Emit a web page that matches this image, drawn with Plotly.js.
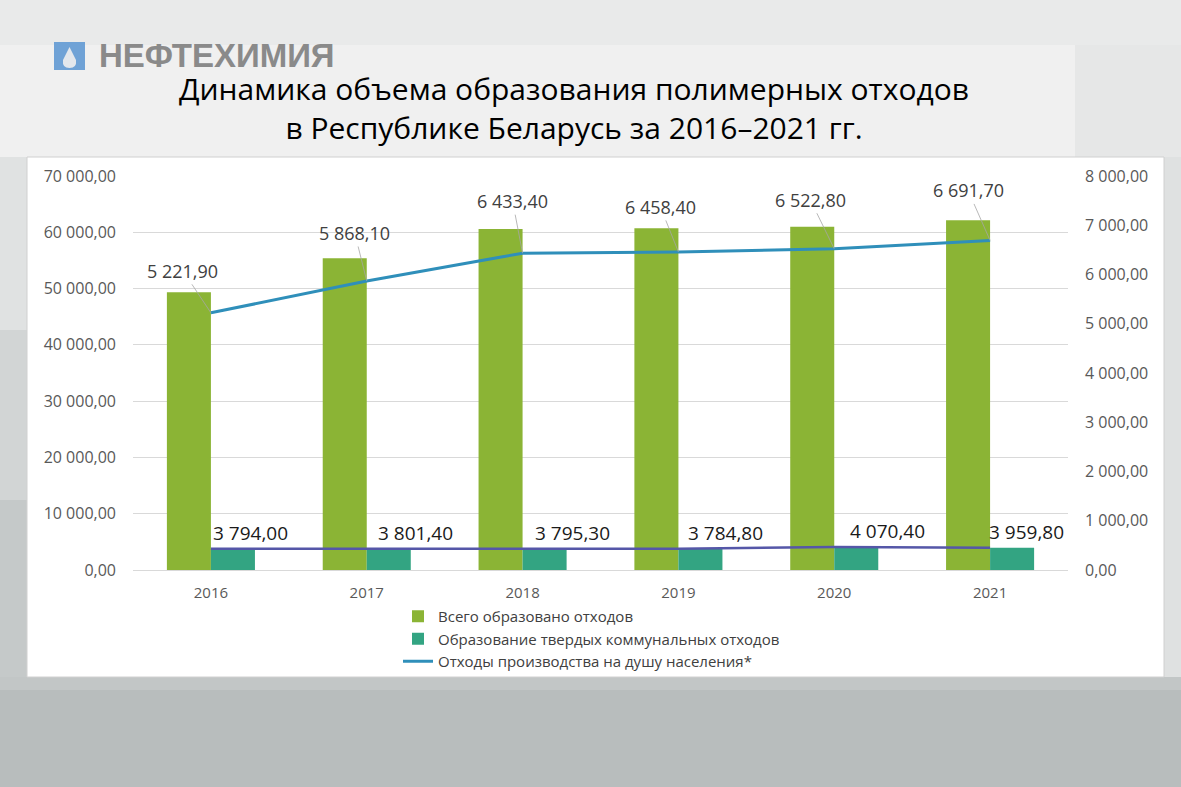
<!DOCTYPE html>
<html>
<head>
<meta charset="utf-8">
<script src="https://cdn.plot.ly/plotly-3.0.1.min.js"></script>
<style>html,body{margin:0;padding:0;background:#e8e9e9;}#chart{width:1181px;height:787px;}</style>
</head>
<body>
<div id="chart"></div>
<script>
// ---- data ----
const years = ['2016', '2017', '2018', '2019', '2020', '2021'];
const totalWaste = [49340, 55380, 60580, 60710, 61000, 62130];          // Всего образовано отходов
const municipalWaste = [3794.00, 3801.40, 3795.30, 3784.80, 4070.40, 3959.80]; // Образование ТКО
const perCapita = [5221.90, 5868.10, 6433.40, 6458.40, 6522.80, 6691.70];      // Отходы производства на душу населения*
const seriesNames = ['Всего образовано отходов', 'Образование твердых коммунальных отходов', 'Отходы производства на душу населения*'];
const titleLines = ['Динамика объема образования полимерных отходов', 'в Республике Беларусь за 2016–2021 гг.'];
const logoText = 'НЕФТЕХИМИЯ';

// ---- layout helpers (pixel -> paper) ----
const L = 133, R = 1068, T = 176, B = 570;
const W = R - L, H = B - T;
const px = v => (v - L) / W;
const py = v => (B - v) / H;

function fmt(v) {
  const s = v.toFixed(2).split('.');
  return s[0].replace(/\B(?=(\d{3})+(?!\d))/g, ' ') + ',' + s[1];
}

const FONT = 'Open Sans, Noto Sans, sans-serif';

const traces = [
  { type: 'bar', x: years, y: totalWaste, name: seriesNames[0], marker: { color: '#8bb435' }, yaxis: 'y', hoverinfo: 'y' },
  { type: 'bar', x: years, y: municipalWaste, name: seriesNames[1], marker: { color: '#33a482' }, yaxis: 'y', hoverinfo: 'y' },
  { type: 'scatter', mode: 'lines', x: years, y: perCapita, name: seriesNames[2], line: { color: '#2f8fba', width: 3 }, yaxis: 'y2' },
  { type: 'scatter', mode: 'lines', x: years, y: municipalWaste, name: 'ТКО', showlegend: false, line: { color: '#5557a8', width: 2.5 }, yaxis: 'y' }
];

const annotations = [];
// per-capita labels with leader lines (x given as category index)
const capOff = [[-28, -42], [-12, -48], [-10, -52], [-18, -45], [-24, -49], [-22, -50]];
perCapita.forEach((v, i) => {
  annotations.push({ x: i, y: v, xref: 'x', yref: 'y2', text: fmt(v), showarrow: true,
    ax: capOff[i][0], ay: capOff[i][1], arrowhead: 0, arrowwidth: 0.8, arrowcolor: '#a6a6a6', standoff: 0,
    font: { family: FONT, size: 18, color: '#404040' } });
});
// municipal labels
const munShift = [0, 9, 10, 8, 14, -3];
municipalWaste.forEach((v, i) => {
  annotations.push({ x: i, y: v, xref: 'x', yref: 'y', text: fmt(v), showarrow: false,
    xanchor: 'left', yanchor: 'bottom', xshift: munShift[i], yshift: 1,
    font: { family: FONT, size: 19, color: '#1a1a1a' } });
});
// logo text
annotations.push({ xref: 'paper', yref: 'paper', x: px(98), y: py(55), xanchor: 'left', yanchor: 'middle',
  text: '<b>' + logoText + '</b>', showarrow: false, height: 30, valign: 'middle', borderpad: 0,
  font: { family: 'Liberation Sans, Arial, sans-serif', size: 33, color: '#8a8a8a' } });
// title (two lines)
annotations.push({ xref: 'paper', yref: 'paper', x: px(574), y: py(108), xanchor: 'center', yanchor: 'middle',
  text: titleLines.join('<br>'), showarrow: false, align: 'center', borderpad: 0, font: { family: FONT, size: 30, color: '#000000' } });

const shapes = [
  // top band
  { type: 'rect', xref: 'paper', yref: 'paper', x0: px(0), x1: px(1181), y0: py(0), y1: py(45), fillcolor: '#e9eaea', line: { width: 0 }, layer: 'below' },
  // title region
  { type: 'rect', xref: 'paper', yref: 'paper', x0: px(0), x1: px(1075), y0: py(45), y1: py(157), fillcolor: '#f0f0f0', line: { width: 0 }, layer: 'below' },
  { type: 'rect', xref: 'paper', yref: 'paper', x0: px(1075), x1: px(1181), y0: py(45), y1: py(157), fillcolor: '#e6e7e7', line: { width: 0 }, layer: 'below' },
  // left and right strips beside the chart box
  { type: 'rect', xref: 'paper', yref: 'paper', x0: px(0), x1: px(27), y0: py(157), y1: py(330), fillcolor: '#e0e2e2', line: { width: 0 }, layer: 'below' },
  { type: 'rect', xref: 'paper', yref: 'paper', x0: px(0), x1: px(27), y0: py(330), y1: py(500), fillcolor: '#d2d5d5', line: { width: 0 }, layer: 'below' },
  { type: 'rect', xref: 'paper', yref: 'paper', x0: px(0), x1: px(27), y0: py(500), y1: py(690), fillcolor: '#c5c9c9', line: { width: 0 }, layer: 'below' },
  { type: 'rect', xref: 'paper', yref: 'paper', x0: px(1164), x1: px(1181), y0: py(157), y1: py(690), fillcolor: '#dfe1e1', line: { width: 0 }, layer: 'below' },
  // bottom band
  { type: 'rect', xref: 'paper', yref: 'paper', x0: px(0), x1: px(1181), y0: py(677), y1: py(690), fillcolor: '#c2c6c6', line: { width: 0 }, layer: 'below' },
  { type: 'rect', xref: 'paper', yref: 'paper', x0: px(0), x1: px(1181), y0: py(690), y1: py(787), fillcolor: '#b8bdbd', line: { width: 0 }, layer: 'below' },
  // white chart box
  { type: 'rect', xref: 'paper', yref: 'paper', x0: px(27), x1: px(1164), y0: py(677), y1: py(157), fillcolor: '#ffffff', line: { color: '#d0d0d0', width: 1 }, layer: 'below' },
  // logo icon
  { type: 'rect', xref: 'paper', yref: 'paper', x0: px(54), x1: px(85), y0: py(70), y1: py(42), fillcolor: '#6fa2d6', line: { width: 0 }, layer: 'above' },
  { type: 'path', xref: 'paper', yref: 'paper', layer: 'above', fillcolor: '#e3e7ec', line: { width: 0 },
    path: 'M ' + px(69.5) + ' ' + py(47) + ' L ' + px(63) + ' ' + py(60) + ' Q ' + px(62) + ' ' + py(68) + ' ' + px(69.5) + ' ' + py(68) +
          ' Q ' + px(77) + ' ' + py(68) + ' ' + px(76) + ' ' + py(60) + ' Z' }
];

const layout = {
  width: 1181, height: 787,
  margin: { l: L, r: 1181 - R, t: T, b: 787 - B, pad: 0 },
  paper_bgcolor: '#e8e9e9',
  plot_bgcolor: 'rgba(0,0,0,0)',
  separators: ', ',
  barmode: 'group', bargap: 0.435, bargroupgap: 0,
  showlegend: true,
  legend: { x: px(398), y: py(600), xanchor: 'left', yanchor: 'top', orientation: 'v', bgcolor: 'rgba(0,0,0,0)',
    font: { family: FONT, size: 15, color: '#404040' }, tracegroupgap: 0, itemwidth: 30, traceorder: 'normal' },
  xaxis: { type: 'category', range: [-0.5, 5.5], autorange: false, tickfont: { family: FONT, size: 15, color: '#595959' }, ticks: '', showline: false, showgrid: false, zeroline: false, ticklabelstandoff: 12 },
  yaxis: { range: [0, 70000], tickvals: [0, 10000, 20000, 30000, 40000, 50000, 60000, 70000], tickformat: ',.2f',
    tickfont: { family: FONT, size: 16, color: '#595959' }, gridcolor: '#d9d9d9', gridwidth: 1, zeroline: true, zerolinecolor: '#d9d9d9',
    showline: false, ticks: '', ticklabelstandoff: 16 },
  yaxis2: { range: [0, 8000], tickvals: [0, 1000, 2000, 3000, 4000, 5000, 6000, 7000, 8000], tickformat: ',.2f', overlaying: 'y', side: 'right',
    tickfont: { family: FONT, size: 16, color: '#595959' }, showgrid: false, zeroline: false, showline: false, ticks: '', ticklabelstandoff: 16 },
  annotations: annotations,
  shapes: shapes
};

Plotly.newPlot('chart', traces, layout, { displayModeBar: false, staticPlot: true });
</script>
</body>
</html>
